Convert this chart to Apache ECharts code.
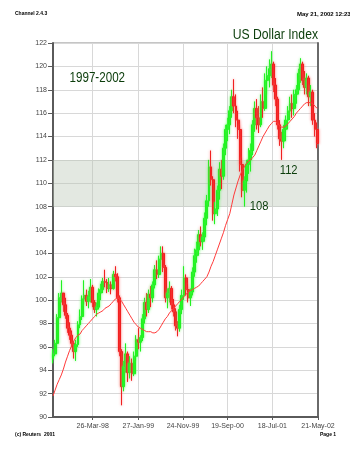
<!DOCTYPE html>
<html>
<head>
<meta charset="utf-8">
<script src="https://cdn.jsdelivr.net/npm/echarts@6/dist/echarts.min.js"></script>
<style>
  html, body { margin: 0; padding: 0; background: #ffffff; }
  #chart { width: 350px; height: 453px; }
</style>
</head>
<body>
<div id="chart"></div>
<script>
// US Dollar Index, fortnightly bars from 2 Jul 1997
const firstBarDate = [1997, 7, 2];
const barStepDays = 14;

const open = [
  95.0, 95.4, 96.3, 98.5, 100.2, 100.6, 99.6, 98.7, 97.6, 97.0,
  96.3, 95.6, 96.2, 97.9, 98.6, 100.1, 100.4, 99.9, 100.3, 101.1,
  99.8, 99.2, 99.4, 100.6, 100.9, 101.6, 101.5, 101.0, 101.3, 101.0,
  102.2, 102.0, 100.2, 95.6, 92.6, 94.3, 95.4, 93.8, 94.6, 93.7,
  95.2, 96.6, 96.4, 96.8, 98.4, 99.8, 99.2, 100.5, 100.2, 101.3,
  102.6, 102.2, 103.5, 104.0, 102.8, 100.2, 100.6, 101.0, 99.6, 99.0,
  97.8, 97.6, 99.2, 100.4, 101.9, 100.9, 100.2, 100.7, 102.4, 103.8,
  104.3, 105.6, 105.0, 105.4, 107.0, 108.5, 111.4, 110.3, 107.4, 107.8,
  109.4, 111.2, 110.6, 113.0, 114.6, 115.0, 116.2, 117.4, 116.6, 115.4,
  114.6, 111.6, 109.4, 110.2, 111.6, 112.0, 112.8, 115.0, 116.4, 115.6,
  115.0, 117.0, 116.4, 118.8, 119.2, 119.8, 120.2, 118.4, 117.2, 115.0,
  113.8, 113.6, 114.6, 115.4, 116.2, 116.8, 116.4, 117.6, 118.0, 119.4,
  120.2, 118.8, 118.2, 119.0, 117.4, 117.8, 115.4, 114.6
];
const close = [
  95.4, 96.3, 98.5, 100.2, 100.6, 99.6, 98.7, 97.6, 97.0, 96.3,
  95.6, 96.2, 97.9, 98.6, 100.1, 100.4, 99.9, 100.3, 101.1, 99.8,
  99.2, 99.4, 100.6, 100.9, 101.6, 101.5, 101.0, 101.3, 101.0, 102.2,
  102.0, 100.2, 95.6, 92.6, 94.3, 95.4, 93.8, 94.6, 93.7, 95.2,
  96.6, 96.4, 96.8, 98.4, 99.8, 99.2, 100.5, 100.2, 101.3, 102.6,
  102.2, 103.5, 104.0, 102.8, 100.2, 100.6, 101.0, 99.6, 99.0, 97.8,
  97.6, 99.2, 100.4, 101.9, 100.9, 100.2, 100.7, 102.4, 103.8, 104.3,
  105.6, 105.0, 105.4, 107.0, 108.5, 111.4, 110.3, 107.4, 107.8, 109.4,
  111.2, 110.6, 113.0, 114.6, 115.0, 116.2, 117.4, 116.6, 115.4, 114.6,
  111.6, 109.4, 110.2, 111.6, 112.0, 112.8, 115.0, 116.4, 115.6, 115.0,
  117.0, 116.4, 118.8, 119.2, 119.8, 120.2, 118.4, 117.2, 115.0, 113.8,
  113.6, 114.6, 115.4, 116.2, 116.8, 116.4, 117.6, 118.0, 119.4, 120.2,
  118.8, 118.2, 119.0, 117.4, 117.8, 115.4, 114.6, 113.4
];
const low = [
  94.6, 95.2, 96.2, 98.3, 99.8, 99.0, 98.4, 97.2, 96.6, 96.0,
  95.0, 94.8, 96.0, 97.6, 98.3, 99.6, 99.5, 99.3, 99.8, 99.4,
  98.9, 98.6, 99.2, 100.0, 100.6, 101.1, 100.6, 100.7, 100.5, 100.9,
  101.6, 99.8, 95.2, 91.0, 92.2, 93.8, 93.0, 93.3, 93.1, 93.5,
  94.8, 95.8, 95.6, 96.5, 98.0, 98.6, 98.9, 99.4, 99.8, 101.0,
  101.8, 101.9, 102.9, 102.4, 99.8, 99.3, 99.8, 99.2, 98.6, 97.4,
  96.9, 97.3, 98.8, 100.0, 100.4, 99.8, 99.5, 100.4, 102.0, 103.2,
  103.8, 104.6, 104.3, 105.0, 106.4, 108.0, 109.8, 106.8, 106.5, 107.2,
  108.6, 109.5, 110.3, 112.4, 113.6, 114.2, 115.6, 116.0, 114.8, 113.8,
  111.0, 108.8, 108.0, 109.2, 110.8, 111.0, 112.4, 114.4, 114.6, 114.3,
  114.8, 115.6, 116.2, 117.6, 118.2, 119.0, 117.8, 116.6, 114.6, 113.2,
  112.0, 113.0, 113.6, 114.6, 115.4, 115.6, 115.8, 116.8, 117.6, 118.6,
  118.4, 117.6, 117.6, 116.6, 116.6, 115.0, 114.0, 113.0
];
const high = [
  95.8, 96.6, 98.8, 100.6, 101.7, 100.6, 100.2, 98.9, 98.1, 97.4,
  96.5, 96.6, 98.2, 99.2, 100.4, 101.7, 100.9, 100.8, 101.8, 101.3,
  100.0, 99.8, 101.0, 101.4, 101.9, 102.6, 101.8, 101.9, 101.6, 102.5,
  102.9, 102.3, 100.4, 95.8, 94.8, 96.3, 95.6, 95.2, 95.0, 95.6,
  97.0, 97.6, 97.0, 98.8, 100.2, 100.6, 100.9, 101.2, 101.6, 103.0,
  103.4, 103.8, 104.6, 104.6, 103.0, 101.0, 101.6, 101.2, 100.1, 99.3,
  98.2, 99.6, 100.9, 102.9, 102.2, 101.4, 101.0, 102.8, 104.4, 105.0,
  106.0, 106.3, 105.8, 107.5, 109.0, 112.0, 112.8, 110.6, 108.4, 109.8,
  111.8, 112.0, 113.4, 115.0, 115.6, 116.6, 118.0, 118.9, 117.6, 116.2,
  115.0, 112.2, 110.6, 112.0, 113.0, 113.4, 115.4, 117.0, 117.2, 116.6,
  117.6, 118.2, 119.4, 120.0, 120.6, 121.3, 120.4, 119.0, 117.4, 115.4,
  114.4, 115.0, 115.8, 116.6, 117.4, 117.6, 118.0, 118.4, 119.8, 120.7,
  120.4, 119.6, 119.4, 119.2, 118.4, 118.0, 116.0, 115.2
];
const movingAvg = [
  91.8, 92.3, 92.8, 93.2, 93.6, 94.1, 94.7, 95.2, 95.7, 96.1,
  96.5, 96.8, 97.0, 97.1, 97.4, 97.6, 97.8, 98.0, 98.2, 98.4,
  98.6, 98.8, 98.9, 99.0, 99.1, 99.3, 99.4, 99.5, 99.7, 99.9,
  100.1, 100.2, 100.1, 99.9, 99.6, 99.3, 99.0, 98.7, 98.4, 98.1,
  97.9, 97.7, 97.6, 97.5, 97.4, 97.3, 97.3, 97.3, 97.2, 97.2,
  97.3, 97.5, 97.8, 98.1, 98.4, 98.6, 98.9, 99.1, 99.3, 99.5,
  99.7, 99.9, 100.1, 100.3, 100.5, 100.7, 100.8, 100.9, 101.0, 101.1,
  101.2, 101.4, 101.6, 101.8, 102.0, 102.4, 102.9, 103.3, 103.8, 104.3,
  104.8, 105.3, 105.8, 106.4, 106.9, 107.4, 108.2, 109.0, 109.6, 110.2,
  110.7, 111.1, 111.4, 111.7, 111.9, 112.0, 112.2, 112.4, 112.8, 113.2,
  113.6, 114.0, 114.3, 114.6, 114.9, 115.1, 115.3, 115.3, 115.1, 114.9,
  114.8, 114.8, 114.9, 115.1, 115.3, 115.5, 115.7, 116.0, 116.2, 116.4,
  116.6, 116.8, 116.9, 116.9, 116.9, 116.8, 116.6, 116.4
];
const tickLabels = ['26-Mar-98', '27-Jan-99', '24-Nov-99', '19-Sep-00', '18-Jul-01', '21-May-02'];
const yMin = 90, yMax = 122, yStep = 2;
const bandRange = [108, 112];
const annotatedLows = [92, 110];   // bars whose lows get a value tag
const titleText = 'US Dollar Index';
const periodText = '1997-2002';

const DAY = 86400000;
const MONTHS = ['Jan','Feb','Mar','Apr','May','Jun','Jul','Aug','Sep','Oct','Nov','Dec'];
function parseLabel(s) {
  const p = s.split('-');
  const yy = +p[2];
  return Date.UTC(yy < 50 ? 2000 + yy : 1900 + yy, MONTHS.indexOf(p[1]), +p[0]);
}
const tickTimes = tickLabels.map(parseLabel);
const startTime = Date.UTC(firstBarDate[0], firstBarDate[1] - 1, firstBarDate[2]);
const barTime = i => startTime + i * barStepDays * DAY;

// rising bars get a soft green glow, falling bars a soft red one
const candles = open.map((o, i) => ({
  value: [barTime(i), o, close[i], low[i], high[i]],
  itemStyle: { shadowColor: close[i] >= o ? 'rgba(90,255,90,0.9)' : 'rgba(255,110,110,0.9)' }
}));
const maLine = movingAvg.map((v, i) => [barTime(i), v]);

const GREEN_TXT = '#0b3d0b';
const SANS = "'Liberation Sans', Arial, Helvetica, sans-serif";

const chart = echarts.init(document.getElementById('chart'), null, { renderer: 'canvas' });

const headerText = [
  { id: 'hdrL', type: 'text', left: 15, top: 11, style: { text: 'Channel 2.4.3', font: 'bold 5px Arial, sans-serif', fill: '#000' } },
  { id: 'hdrR', type: 'text', left: 297, top: 11, style: { text: 'May 21, 2002 12:23', font: 'bold 6px Arial, sans-serif', fill: '#000' } },
  { id: 'ftrL', type: 'text', left: 15, top: 432, style: { text: '(c) Reuters  2001', font: 'bold 5px Arial, sans-serif', fill: '#000' } },
  { id: 'ftrR', type: 'text', left: 320, top: 432, style: { text: 'Page 1', font: 'bold 5px Arial, sans-serif', fill: '#000' } },
  { id: 'title', type: 'text', x: 318, y: 35, scaleX: 0.87, z: 20,
    style: { text: titleText, font: '14px ' + SANS, fill: GREEN_TXT, align: 'right', verticalAlign: 'middle' } },
  { id: 'period', type: 'text', x: 69.5, y: 78.5, scaleX: 0.83, z: 20,
    style: { text: periodText, font: '14px ' + SANS, fill: GREEN_TXT, align: 'left', verticalAlign: 'middle' } }
];

chart.setOption({
  animation: false,
  backgroundColor: '#ffffff',
  grid: { left: 53, right: 32, top: 43, bottom: 36, show: true, borderColor: '#8a8a8a', borderWidth: 1 },
  xAxis: {
    type: 'value',
    min: startTime,
    max: tickTimes[tickTimes.length - 1],
    axisLine: { show: true, lineStyle: { color: '#5a5a5a', width: 2 } },
    axisTick: { show: true, length: 3, customValues: tickTimes, lineStyle: { color: '#5a5a5a' } },
    axisLabel: {
      customValues: tickTimes,
      fontSize: 7, color: '#444', fontFamily: SANS, margin: 6,
      formatter: v => {
        const k = tickTimes.indexOf(v);
        return k >= 0 ? tickLabels[k] : '';
      }
    },
    splitLine: { show: true, lineStyle: { color: '#d8d8d8', width: 1 } }
  },
  yAxis: [{
    type: 'value', min: yMin, max: yMax, interval: yStep,
    axisLine: { show: true, lineStyle: { color: '#5a5a5a', width: 2 } },
    axisTick: { show: true, length: 5, lineStyle: { color: '#5a5a5a' } },
    axisLabel: { fontSize: 7, color: '#444', fontFamily: SANS, margin: 6 },
    splitLine: { show: true, lineStyle: { color: '#d8d8d8', width: 1 } }
  }, {
    type: 'value', min: yMin, max: yMax, interval: yStep, position: 'right',
    axisLine: { show: true, onZero: false, lineStyle: { color: '#6a6a6a', width: 2 } },
    axisTick: { show: false }, axisLabel: { show: false }, splitLine: { show: false }
  }],
  series: [{
    type: 'line',
    data: [],
    silent: true,
    markArea: {
      silent: true,
      itemStyle: { color: 'rgba(185,198,180,0.40)' },
      data: [[{ yAxis: bandRange[0] }, { yAxis: bandRange[1] }]]
    },
    z: 1
  }, {
    type: 'candlestick',
    data: candles,
    barWidth: 2.4,
    itemStyle: {
      color: '#00ee00', color0: '#ee0000',
      borderColor: '#22f022', borderColor0: '#f02020', borderWidth: 1,
      shadowBlur: 2.5
    },
    z: 3
  }, {
    type: 'line',
    data: maLine,
    showSymbol: false,
    smooth: false,
    lineStyle: { color: '#ff3a3a', width: 1 },
    z: 4
  }],
  graphic: { elements: headerText }
});

// value tags beside the two marked lows, placed from the bars' own coordinates
const tagOffsets = [[5.5, 0], [-2, 11]];
const tags = annotatedLows.map((i, n) => {
  const p = chart.convertToPixel({ seriesIndex: 1 }, [barTime(i), low[i]]);
  return {
    id: 'tag' + n, type: 'text', z: 20,
    x: p[0] + tagOffsets[n][0], y: p[1] + tagOffsets[n][1], scaleX: 0.86,
    style: { text: String(Math.round(low[i])), font: '13px ' + SANS, fill: GREEN_TXT, align: 'left', verticalAlign: 'middle' }
  };
});
chart.setOption({ graphic: { elements: headerText.concat(tags) } });
</script>
</body>
</html>
